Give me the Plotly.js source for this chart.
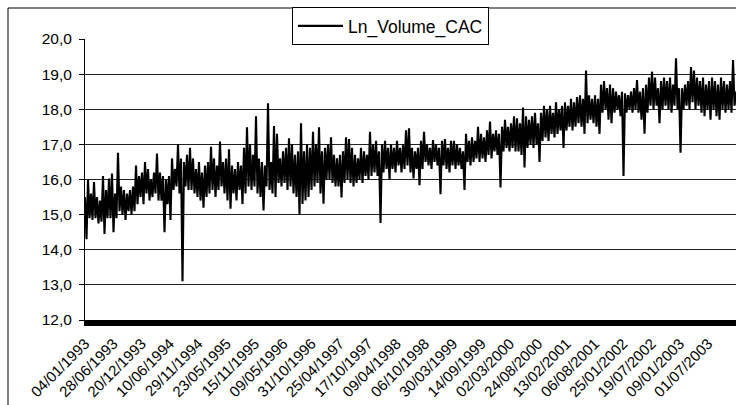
<!DOCTYPE html>
<html><head><meta charset="utf-8">
<script src="https://cdn.plot.ly/plotly-3.0.1.min.js"></script>
<style>html,body{margin:0;padding:0;background:#fff;}#chart{width:736px;height:405px;}</style>
</head><body><div id="chart"></div>
<script>
const seriesName = 'Ln_Volume_CAC';
const tickLabels = ['04/01/1993','28/06/1993','20/12/1993','10/06/1994','29/11/1994','23/05/1995','15/11/1995','09/05/1996','31/10/1996','25/04/1997','17/10/1997','09/04/1998','06/10/1998','30/03/1999','14/09/1999','02/03/2000','24/08/2000','13/02/2001','06/08/2001','25/01/2002','19/07/2002','09/01/2003','01/07/2003'];
const tradingDaysPerLabel = 125;
const tradingDaysPerSample = 6.62;
const totalTradingDays = 2873;

// values: alternating local high / low of the daily series
const vol1993_1995 = [15.5,14.3, 16.0,14.9, 15.6,14.85, 15.93,14.9, 15.5,14.75, 15.4,14.8, 16.1,14.45, 15.7,14.9, 16.03,14.9, 16.17,14.5, 15.6,14.9, 16.76,15.1, 15.8,15.0, 15.7,14.85, 15.6,15.1, 15.7,15.0, 15.8,15.1, 16.4,15.3, 16.1,15.5, 16.2,15.3, 16.5,15.6, 16.3,15.4, 16.0,15.5, 16.2,15.6, 16.74,15.4, 16.2,15.4, 16.1,14.5, 16.0,15.3, 16.1,14.85, 16.6,15.7, 16.3,15.8, 17.0,15.6, 16.6,13.1, 16.5,15.8, 16.7,15.7, 16.9,15.7, 16.6,15.6];
const vol1995_1997 = [16.3,15.5, 16.5,15.4, 16.2,15.2, 16.4,15.5, 16.5,15.6, 16.93,15.7, 16.6,15.5, 16.4,15.7, 17.08,15.8, 16.5,15.6, 16.6,15.4, 16.86,15.17, 16.4,15.6, 16.3,15.4, 16.5,15.7, 16.4,15.3, 16.9,15.6, 17.49,15.8, 17.0,15.7, 16.7,15.8, 17.8,15.6, 16.6,15.5, 16.5,15.12, 16.4,15.8, 18.17,15.7, 16.5,15.6, 17.52,15.5, 17.3,15.9, 16.6,15.8, 16.8,15.9, 16.9,15.7, 17.17,15.8, 17.0,15.6, 16.7,15.5, 16.8,15.0];
const vol1997_1999 = [17.6,15.3, 16.8,15.4, 17.0,15.5, 16.9,15.7, 17.36,15.8, 17.0,15.9, 17.49,15.6, 16.8,15.31, 16.9,16.0, 17.0,16.0, 17.2,15.9, 16.7,15.8, 16.6,15.8, 16.7,15.49, 16.8,15.9, 17.2,16.0, 17.15,15.9, 16.9,15.8, 16.7,15.9, 16.6,16.0, 16.9,15.9, 16.8,16.1, 16.7,16.0, 17.36,16.1, 17.0,16.2, 17.1,16.1, 16.8,14.76, 17.0,16.2, 17.1,16.3, 16.9,16.0, 17.0,16.3, 16.9,16.2, 17.1,16.4, 16.9,16.2, 17.0,16.3, 17.4,16.4];
const vol1999_2000 = [17.46,16.2, 16.9,16.03, 16.8,16.3, 16.9,15.84, 17.1,16.3, 17.36,16.5, 17.0,16.4, 16.9,16.3, 17.12,16.5, 17.0,16.4, 16.9,15.58, 17.1,16.4, 17.15,16.3, 16.9,16.2, 17.1,16.4, 17.1,16.3, 17.0,16.4, 16.9,16.3, 16.8,15.7, 17.3,16.5, 17.1,16.4, 17.2,16.5, 17.1,16.6, 17.5,16.5, 17.3,16.6, 17.2,16.5, 17.4,16.7, 17.65,16.6, 17.3,16.8, 17.4,16.7, 17.3,15.77, 17.5,16.8, 17.7,16.9, 17.5,16.8, 17.6,16.9, 17.8,16.8];
const vol2000_2002 = [17.74,16.8, 17.6,16.7, 18.05,16.34, 17.8,16.9, 17.7,17.0, 17.8,16.9, 17.9,17.0, 17.6,16.5, 17.9,17.1, 18.1,17.2, 18.0,17.1, 18.1,17.3, 17.9,17.2, 18.2,17.3, 18.0,17.4, 18.1,16.9, 18.2,17.4, 18.1,17.5, 18.3,17.4, 18.2,17.5, 18.35,17.6, 18.4,17.5, 18.3,17.3, 19.1,17.6, 18.4,17.7, 18.3,17.6, 18.4,17.5, 18.3,17.3, 18.7,17.9, 18.8,18.0, 18.6,17.7, 18.7,17.6, 18.6,17.9, 18.5,18.0, 18.4,17.8, 18.5,16.1];
const vol2002_2003 = [18.45,17.9, 18.4,18.0, 18.5,17.9, 18.6,18.0, 18.83,17.9, 18.5,17.7, 18.6,17.3, 18.7,17.9, 18.9,18.1, 19.07,18.0, 18.9,18.1, 18.6,17.6, 18.8,18.0, 18.9,18.1, 18.8,18.0, 18.9,17.9, 18.7,18.1, 19.45,18.0, 18.6,16.76, 18.6,18.0, 18.7,18.1, 18.8,18.0, 19.2,18.2, 19.1,18.0, 18.9,18.1, 18.8,17.9, 18.9,17.8, 18.7,18.0, 18.8,17.7, 18.9,18.0, 18.8,17.8, 18.7,17.7, 18.9,18.0, 18.8,17.9, 18.7,18.0, 18.8,17.9, 19.4,18.1, 18.5,18.2];

const values = [].concat(vol1993_1995, vol1995_1997, vol1997_1999, vol1999_2000, vol2000_2002, vol2002_2003);
const xs = values.map((v, i) => i * tradingDaysPerSample);
const tickVals = tickLabels.map((t, k) => k * tradingDaysPerLabel);

const W = 736, H = 405, L = 85, R = 0, T = 39, B = 85;
const pw = W - L - R, ph = H - T - B;
const px = x => (x - L) / pw;
const py = y => (H - B - y) / ph;

const trace = {
  x: xs, y: values, type: 'scatter', mode: 'lines', name: seriesName,
  line: {color: '#000', width: 2.1}
};

const layout = {
  width: W, height: H,
  margin: {l: L, r: R, t: T, b: B, pad: 0, autoexpand: false},
  paper_bgcolor: '#fff', plot_bgcolor: '#fff',
  separators: ',.',
  font: {family: '"Liberation Sans", Arial, sans-serif', size: 15, color: '#000'},
  showlegend: true,
  legend: {x: px(292), xanchor: 'left', y: py(7), yanchor: 'top', bordercolor: '#000', borderwidth: 1,
           bgcolor: '#fff', font: {size: 17.5}, itemwidth: 45},
  xaxis: {range: [0, totalTradingDays], tickmode: 'array', tickvals: tickVals, ticktext: tickLabels,
          tickangle: -45, showgrid: false, zeroline: false, showline: true, linecolor: '#000', linewidth: 6,
          ticks: '', tickfont: {size: 15}, ticklabelstandoff: 3},
  yaxis: {range: [12, 20], dtick: 1, tick0: 12, tickformat: '.1f', showgrid: true, gridcolor: '#222', gridwidth: 1,
          ticks: 'outside', ticklen: 5, tickcolor: '#000', showline: true, linecolor: '#000', linewidth: 1,
          zeroline: false, tickfont: {size: 15.5}, ticklabelstandoff: 4},
  shapes: [{type: 'rect', xref: 'paper', yref: 'paper', x0: px(8), x1: px(760), y0: py(430), y1: py(8),
            line: {color: '#000', width: 1}, fillcolor: 'rgba(0,0,0,0)', layer: 'below'}]
};

Plotly.newPlot('chart', [trace], layout, {displayModeBar: false, staticPlot: true});
</script>
</body></html>
